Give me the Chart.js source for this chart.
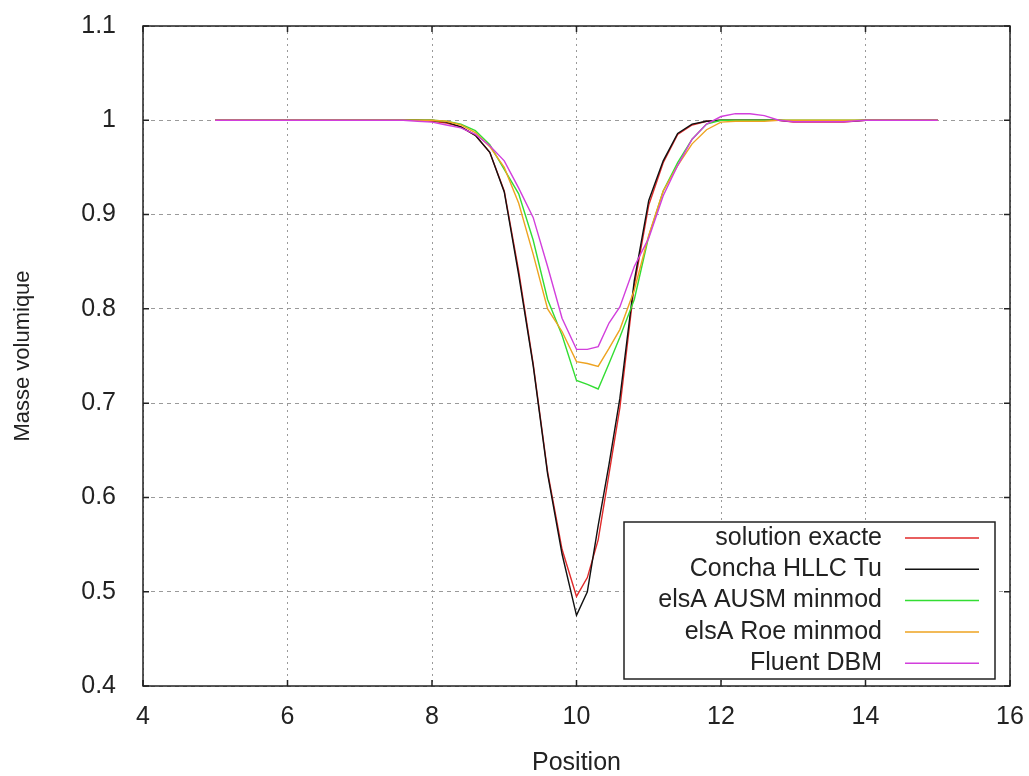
<!DOCTYPE html>
<html>
<head>
<meta charset="utf-8">
<script src="https://cdn.jsdelivr.net/npm/chart.js@4"></script>
<style>
    html, body { margin: 0; padding: 0; background: #fff; }
    #wrap { width: 1029px; height: 776px; }
</style>
</head>
<body>
<div id="wrap"><canvas id="densityChart" width="1029" height="776"></canvas></div>
<script>
// Density profile (masse volumique) along the position axis

const positions = [5, 6, 7, 7.6, 7.8, 8.0, 8.2, 8.4, 8.6, 8.8, 9.0, 9.2, 9.4, 9.6, 9.8, 10.0, 10.15, 10.3, 10.45, 10.6,
    10.8, 11.0, 11.2, 11.4, 11.6, 11.8, 12.0, 12.2, 12.4, 12.6, 12.8, 13.0, 13.7, 14, 15];

const exacte = [1, 1, 1, 1, 1, 0.999, 0.997, 0.993, 0.984, 0.966, 0.925, 0.840, 0.742, 0.627, 0.545, 0.495, 0.515, 0.555, 0.625, 0.695,
    0.825, 0.910, 0.955, 0.985, 0.995, 0.999, 1, 1, 1, 1, 1, 0.998, 0.998, 1, 1];
const conchaHllc = [1, 1, 1, 1, 1, 1, 0.998, 0.993, 0.984, 0.966, 0.924, 0.836, 0.740, 0.625, 0.540, 0.475, 0.500, 0.570, 0.635, 0.705,
    0.830, 0.915, 0.957, 0.986, 0.996, 0.999, 1, 1, 1, 1, 1, 0.999, 0.999, 1, 1];
const elsaAusm = [1, 1, 1, 1, 1, 1, 0.999, 0.996, 0.989, 0.974, 0.948, 0.922, 0.873, 0.810, 0.772, 0.724, 0.720, 0.715, 0.742, 0.770,
    0.810, 0.877, 0.925, 0.955, 0.980, 0.996, 1, 1, 1, 1, 1, 1, 1, 1, 1];
const elsaRoe = [1, 1, 1, 1, 1, 1, 0.999, 0.995, 0.987, 0.972, 0.950, 0.912, 0.858, 0.800, 0.776, 0.744, 0.742, 0.739, 0.758, 0.778,
    0.820, 0.878, 0.925, 0.952, 0.975, 0.990, 0.998, 0.999, 0.999, 0.999, 1, 1, 1, 1, 1];
const fluentDbm = [1, 1, 1, 1, 0.999, 0.998, 0.995, 0.992, 0.985, 0.973, 0.957, 0.928, 0.897, 0.845, 0.790, 0.757, 0.757, 0.760, 0.785, 0.802,
    0.845, 0.875, 0.920, 0.952, 0.980, 0.996, 1.004, 1.007, 1.007, 1.005, 1.0, 0.9985, 0.9985, 1, 1];

const seriesLabels = ['solution exacte', 'Concha HLLC Tu', 'elsA AUSM minmod', 'elsA Roe minmod', 'Fluent DBM'];
const seriesColors = ['#e02a2a', '#111111', '#33dd33', '#eea320', '#d23fdc'];
const seriesValues = [exacte, conchaHllc, elsaAusm, elsaRoe, fluentDbm];

const xTicks = [4, 6, 8, 10, 12, 14, 16];
const yTicks = [0.4, 0.5, 0.6, 0.7, 0.8, 0.9, 1.0, 1.1];

const FONT = "'Liberation Sans', Arial, sans-serif";

// Box, inward ticks and the framed key, gnuplot style
const framePlugin = {
    id: 'frame',
    afterDraw(chart) {
        const ctx = chart.ctx;
        const area = chart.chartArea;
        const xs = chart.scales.x;
        const ys = chart.scales.y;
        ctx.save();

        // key box
        const boxL = 624, boxR = 995, boxT = 522, boxB = 679;
        ctx.fillStyle = '#fff';
        ctx.fillRect(boxL, boxT, boxR - boxL, boxB - boxT);
        ctx.strokeStyle = '#222';
        ctx.lineWidth = 1.5;
        ctx.strokeRect(boxL, boxT, boxR - boxL, boxB - boxT);
        ctx.font = '25px ' + FONT;
        ctx.textAlign = 'right';
        ctx.textBaseline = 'middle';
        chart.data.datasets.forEach((ds, i) => {
            const rowY = 538 + i * 31.3;
            ctx.fillStyle = '#222';
            ctx.fillText(ds.label, 882, rowY);
            ctx.strokeStyle = ds.borderColor;
            ctx.lineWidth = 1.5;
            ctx.beginPath();
            ctx.moveTo(905, rowY);
            ctx.lineTo(979, rowY);
            ctx.stroke();
        });

        // frame
        ctx.strokeStyle = '#222';
        ctx.lineWidth = 1.5;
        ctx.strokeRect(area.left, area.top, area.right - area.left, area.bottom - area.top);

        // inward ticks on all four sides
        ctx.beginPath();
        xTicks.forEach(v => {
            const px = xs.getPixelForValue(v);
            ctx.moveTo(px, area.bottom); ctx.lineTo(px, area.bottom - 6);
            ctx.moveTo(px, area.top); ctx.lineTo(px, area.top + 6);
        });
        yTicks.forEach(v => {
            const py = ys.getPixelForValue(v);
            ctx.moveTo(area.left, py); ctx.lineTo(area.left + 6, py);
            ctx.moveTo(area.right, py); ctx.lineTo(area.right - 6, py);
        });
        ctx.stroke();
        ctx.restore();
    }
};

const datasets = seriesValues.map((vals, i) => ({
    label: seriesLabels[i],
    data: positions.map((x, j) => ({ x: x, y: vals[j] })),
    borderColor: seriesColors[i],
    borderWidth: 1.4,
    pointRadius: 0,
    tension: 0,
    fill: false,
    order: seriesValues.length - i
}));

// keep label overhang from pushing the plot box around
function noOverhang(scale) {
    scale.paddingTop = 0;
    scale.paddingBottom = 0;
    scale.paddingLeft = 0;
    scale.paddingRight = 0;
}

new Chart(document.getElementById('densityChart'), {
    type: 'line',
    data: { datasets: datasets },
    options: {
        responsive: false,
        animation: false,
        layout: { padding: { top: 26, right: 19, left: 0, bottom: 0 } },
        plugins: {
            legend: { display: false },
            tooltip: { enabled: false }
        },
        scales: {
            x: {
                type: 'linear',
                min: 4,
                max: 16,
                afterFit: scale => { scale.height = 90; noOverhang(scale); },
                afterBuildTicks: scale => { scale.ticks = xTicks.map(v => ({ value: v })); },
                grid: { color: '#9a9a9a', lineWidth: 1, drawTicks: false },
                border: { display: false, dash: [2, 4] },
                ticks: {
                    color: '#222',
                    padding: 16,
                    maxRotation: 0,
                    font: { family: FONT, size: 25 },
                    callback: v => String(v)
                },
                title: {
                    display: true,
                    text: 'Position',
                    color: '#222',
                    font: { family: FONT, size: 25, lineHeight: 1 },
                    padding: { top: 0, bottom: 0 }
                }
            },
            y: {
                min: 0.4,
                max: 1.1,
                afterFit: scale => { scale.width = 143; noOverhang(scale); },
                afterBuildTicks: scale => { scale.ticks = yTicks.map(v => ({ value: v })); },
                grid: { color: '#9a9a9a', lineWidth: 1, drawTicks: false },
                border: { display: false, dash: [4, 4] },
                ticks: {
                    color: '#222',
                    padding: 27,
                    font: { family: FONT, size: 25 },
                    callback: v => (Math.round(v * 10) / 10).toString()
                },
                title: {
                    display: true,
                    text: 'Masse volumique',
                    color: '#222',
                    font: { family: FONT, size: 22, lineHeight: 1 },
                    padding: { top: 12, bottom: 0 }
                }
            }
        }
    },
    plugins: [framePlugin]
});
</script>
</body>
</html>
